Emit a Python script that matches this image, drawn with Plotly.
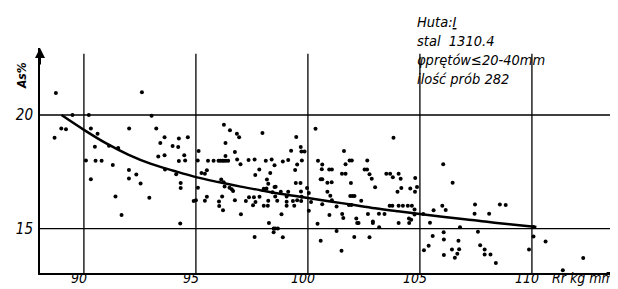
import plotly.graph_objects as go

# ---- data ----
rr = [88.75, 92.59, 89.49, 90.22, 93.02, 88.99, 89.2, 88.69, 90.31, 90.61, 92.02, 93.23, 93.6, 93.41,
      94.24, 94.64, 93.96, 94.21, 90.49, 91.12, 91.53, 93.32, 93.6, 94.48, 94.24, 94.52, 90.09, 90.52,
      90.79, 91.29, 92.01, 92.34, 92.01, 92.53, 93.62, 94.12, 94.32, 94.32, 90.31, 91.41, 92.92, 91.68, 94.3,
      96.25, 96.52, 96.83, 96.93, 96.32, 97.97, 99.48, 99.68, 99.71, 99.85, 99.25, 100.34, 95.12, 96.74,
      96.32, 95.54, 95.79, 96.01, 96.09, 96.18, 96.25, 96.34, 96.44, 96.84, 96.99, 97.35, 97.62, 98.12,
      98.38, 98.51, 98.88, 99.12, 99.73, 99.52, 99.43, 97.83, 97.65, 98.32, 98.17, 98.23, 98.51, 95.08,
      95.25, 95.4, 95.49, 96.13, 96.24, 96.28, 96.5, 96.6, 96.66, 95.09, 94.9, 95.0, 95.4, 95.49, 96.17,
      96.03, 96.04, 96.21, 96.74, 97.01, 97.23, 97.37, 97.59, 97.66, 97.84, 97.55, 98.03, 98.15, 98.03,
      98.21, 98.23, 98.42, 98.54, 98.56, 98.63, 98.79, 98.82, 99.05, 99.05, 99.05, 99.12, 99.33, 99.39,
      99.46, 99.67, 99.69, 99.72, 99.7, 99.52, 100.04, 99.96, 100.04, 100.14, 100.45, 100.64, 100.62,
      100.95, 101.07, 100.57, 100.64, 100.87, 101.06, 100.87, 101.0, 101.07, 100.64, 101.28, 100.96,
      100.43, 98.26, 98.47, 98.54, 98.66, 98.47, 98.88, 97.62, 100.57, 101.28,
      103.82, 101.61, 101.68, 101.86, 101.96, 102.65, 101.52, 101.68, 101.92, 102.53, 102.64, 102.75,
      102.85, 103.0, 103.5, 103.67, 103.79, 104.05, 104.14, 104.0, 104.17, 104.57, 104.79, 104.87, 104.78,
      101.89, 101.99, 102.08, 101.83, 101.94, 102.38, 101.53, 101.58, 102.16, 102.2, 102.26, 102.68,
      102.9, 102.9, 103.17, 103.18, 103.42, 103.65, 103.77, 104.05, 104.24, 104.46, 104.64, 104.05,
      104.51, 104.61, 104.52, 104.76, 104.76, 105.15, 105.45, 105.61, 106.0, 106.15, 106.04, 106.46,
      106.79, 107.46, 107.44, 107.59, 102.07, 102.75, 101.5, 105.57, 105.39, 105.18, 106.06, 106.07,
      106.07, 106.43, 106.72, 106.75, 106.56, 106.67, 107.69, 107.89, 107.89,
      108.57, 108.83, 108.09, 108.15, 108.39, 109.87, 110.07, 110.07, 110.61, 112.29, 111.38]
a5 = [20.97, 21.0, 20.0, 20.0, 19.97, 19.41, 19.38, 19.0, 19.41, 19.18, 19.41, 19.41, 19.02, 18.77,
      18.97, 19.02, 18.64, 18.59, 18.61, 18.65, 18.55, 18.18, 18.23, 18.23, 17.98, 18.0, 18.0, 17.99,
      17.99, 17.8, 17.58, 17.38, 17.21, 16.99, 17.6, 17.4, 17.01, 16.79, 17.18, 16.42, 16.36, 15.6, 15.23,
      19.57, 19.33, 19.18, 19.02, 18.77, 19.21, 19.03, 18.59, 18.4, 18.4, 18.43, 19.4, 18.42, 18.37,
      18.2, 17.99, 17.99, 17.99, 17.99, 17.99, 17.99, 17.99, 17.99, 18.04, 17.83, 18.02, 18.04, 17.99,
      18.04, 17.79, 17.96, 18.02, 18.0, 17.82, 17.58, 17.6, 17.36, 17.45, 17.16, 16.98, 16.83, 18.0,
      17.45, 17.42, 17.57, 17.16, 17.04, 16.86, 16.8, 16.74, 16.66, 16.8, 16.22, 16.25, 16.23, 16.41, 16.42,
      16.2, 16.0, 15.81, 16.25, 15.63, 16.22, 16.38, 16.38, 16.17, 16.41, 16.03, 16.76, 16.77, 16.01,
      16.01, 16.23, 16.6, 16.42, 16.85, 16.23, 16.63, 15.63, 16.42, 16.19, 16.01, 16.63, 16.22, 16.01,
      17.01, 17.01, 16.64, 16.41, 16.22, 16.25, 15.79, 16.79, 16.57, 16.17, 17.99, 17.82, 17.62,
      17.6, 17.6, 17.18, 17.18, 17.02, 17.04, 16.63, 16.45, 16.25, 16.07, 15.98, 15.6,
      15.22, 15.25, 15.01, 15.01, 15.01, 14.84, 14.62, 14.63, 14.47, 14.9,
      19.0, 18.42, 17.83, 18.0, 18.0, 18.0, 17.42, 17.42, 17.01, 17.6, 17.6, 17.4,
      17.2, 16.82, 17.42, 17.42, 17.26, 17.42, 17.2, 16.63, 16.79, 16.77, 17.23, 16.83, 16.63,
      16.44, 16.44, 16.44, 16.04, 16.04, 16.23, 15.65, 15.47, 15.45, 15.25, 15.25, 15.65,
      15.32, 15.25, 15.66, 15.06, 15.65, 16.01, 16.01, 16.01, 16.01, 16.01, 16.01, 15.25,
      15.45, 15.39, 15.25, 15.84, 15.62, 15.65, 15.26, 15.81, 16.01, 15.82, 17.84, 17.02,
      15.06, 16.06, 15.66, 14.87, 14.63, 14.62, 14.03, 14.68, 14.25, 14.05, 14.84, 14.52,
      13.84, 14.08, 14.47, 14.09, 13.72, 13.9, 14.27, 14.08, 13.86,
      16.06, 16.04, 15.66, 13.86, 13.49, 14.08, 14.66, 15.07, 14.44, 13.71, 13.17]

curve_rr = [89.0, 90, 91, 92, 93, 94, 95, 96, 97, 98, 99, 100, 101, 102, 103, 104, 105, 106, 107,
            108, 109, 110.2]
curve_a5 = [20.0, 19.35, 18.75, 18.25, 17.85, 17.55, 17.27, 17.05, 16.85, 16.67, 16.5, 16.35, 16.2,
            16.05, 15.9, 15.77, 15.65, 15.53, 15.42, 15.3, 15.2, 15.07]

x_ticks = [90, 95, 100, 105, 110]
x_tick_labels = ["90", "95", "100", "105", "110"]
y_ticks = [15, 20]
y_tick_labels = ["15", "20"]

info_lines = ["Huta:<u>I</u>", "stal  1310.4", "φprętów≤20-40mm", "ilość prób 282"]

FONT = "Liberation Sans Narrow, DejaVu Sans Condensed, sans-serif"
X_RANGE = [88.04, 114.2]
Y_RANGE = [13.05, 22.95]
TOP, PLOT_H, LEFT, PLOT_W = 40, 225, 32, 586


def paper_y(py):
    return 1 + (TOP - py) / PLOT_H


def paper_x(px):
    return (px - LEFT) / PLOT_W


fig = go.Figure()
fig.add_trace(go.Scatter(x=rr, y=a5, mode="markers",
                         marker=dict(color="black", size=4), hoverinfo="skip"))
fig.add_trace(go.Scatter(x=curve_rr, y=curve_a5, mode="lines", line_shape="spline",
                         line=dict(color="black", width=2.5), hoverinfo="skip"))

shapes = []
for xv in x_ticks:
    shapes.append(dict(type="line", xref="x", yref="y", x0=xv, x1=xv,
                       y0=Y_RANGE[0], y1=22.7, line=dict(color="black", width=1.3)))
for yv in y_ticks:
    shapes.append(dict(type="line", xref="paper", yref="y", x0=0, x1=1, y0=yv, y1=yv,
                       line=dict(color="black", width=1.6 if yv == 20 else 1.2)))
fig.update_layout(shapes=shapes)

tick_font = dict(family=FONT, size=14, color="black", style="italic")
annotations = []
# axis arrows
annotations.append(dict(xref="paper", yref="paper", x=0, y=1.0, ax=0, ay=18, showarrow=True,
                        arrowhead=2, arrowsize=1, arrowwidth=2, arrowcolor="black", text=""))
annotations.append(dict(xref="paper", yref="paper", x=0.995, y=0, ax=-18, ay=0, showarrow=True,
                        arrowhead=2, arrowsize=1, arrowwidth=2, arrowcolor="black", text=""))
# x tick labels
for xv, lab in zip(x_ticks, x_tick_labels):
    annotations.append(dict(xref="x", yref="paper", x=xv, y=0, xanchor="center", yanchor="top",
                            xshift=-5, yshift=4, borderpad=0, showarrow=False, text=lab,
                            font=tick_font))
# axis titles
annotations.append(dict(xref="paper", yref="paper", x=1.0, y=0, xanchor="right", yanchor="top",
                        xshift=-11, yshift=4, borderpad=0, showarrow=False, text="Rr kg mm",
                        font=tick_font))
annotations.append(dict(xref="paper", yref="paper", x=paper_x(14), y=paper_y(68),
                        xanchor="center", yanchor="middle", textangle=-90,
                        showarrow=False, text="As%",
                        font=dict(family=FONT, size=12, color="black", style="italic", weight="bold")))
# info block
annotations.append(dict(xref="paper", yref="paper", x=paper_x(407), y=paper_y(4),
                        xanchor="left", yanchor="top", align="left", showarrow=False,
                        text="<br>".join(info_lines),
                        font=dict(family=FONT, size=14.5, color="black", style="italic")))
fig.update_layout(annotations=annotations)

fig.update_xaxes(range=X_RANGE, tickvals=x_ticks, showticklabels=False, showgrid=False,
                 zeroline=False, showline=True, linecolor="black", linewidth=2, ticks="")
fig.update_yaxes(range=Y_RANGE, tickvals=y_ticks, ticktext=y_tick_labels, showgrid=False,
                 zeroline=False, showline=True, linecolor="black", linewidth=2, ticks="",
                 ticklabelstandoff=2, tickfont=dict(family=FONT, size=15, color="black", style="italic"))

fig.update_layout(width=618, height=289, margin=dict(l=LEFT, r=0, t=TOP, b=24),
                  paper_bgcolor="white", plot_bgcolor="white", showlegend=False)

fig.write_html("out.html")
